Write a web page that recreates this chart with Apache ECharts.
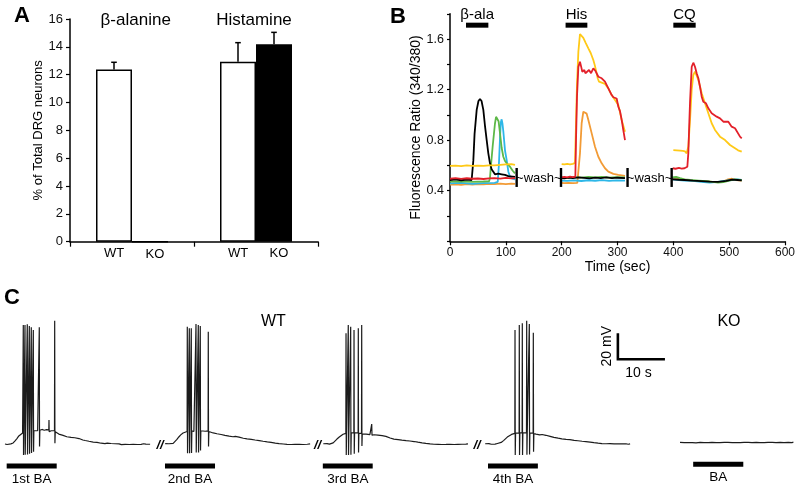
<!DOCTYPE html>
<html><head><meta charset="utf-8">
<script src="https://cdn.jsdelivr.net/npm/echarts@6.0.0/dist/echarts.min.js"></script>
<style>html,body{margin:0;padding:0;background:#fff}#c{width:800px;height:489px}</style>
</head><body><div id="c"></div>
<script>
// ---------------- Panel A data ----------------
const aCategories = ['β-alanine', 'Histamine'];
const aWT = [12.38, 12.93];
const aKO = [0, 14.18];
const aWTerrTop = [12.89, 14.30];
const aKOerrTop = [null, 15.04];

// ---------------- Panel B data (time s, ratio) ----------------
const bStim = [[28.7, 68.7], [207, 246], [400, 440]];
const bStimLabels = ['β-ala', 'His', 'CQ'];
const bWashMarks = [119.4, 198.8, 318, 397];

const bYellow1 = [[0,0.596],[10,0.598],[20,0.594],[30,0.6],[40,0.597],[50,0.599],[60,0.596],[70,0.601],[80,0.6],[90,0.605],[100,0.608],[110,0.611],[116.4,0.605]];
const bYellow2 = [[200,0.611],[205,0.608],[210,0.612],[215,0.609],[220,0.613],[223.9,0.62],[225.5,0.9],[227.5,1.25],[229.9,1.5],[232.8,1.64],[235.5,1.63],[238.8,1.61],[243,1.57],[247.8,1.527],[252,1.49],[256.7,1.434],[259.5,1.39],[262.7,1.329],[264.5,1.29],[266.9,1.263],[271.7,1.255],[277.6,1.245],[283.6,1.21],[289.6,1.157],[295.5,1.118],[301.5,1.078],[304.5,1.02],[307.5,0.96],[313.4,0.867]];
const bYellow3 = [[400,0.722],[406,0.72],[412,0.718],[417,0.715],[420.9,0.712],[423.9,0.696],[426.9,0.75],[429.9,0.96],[432.9,1.2],[435.8,1.316],[438.8,1.342],[441.8,1.31],[444.8,1.276],[450.8,1.171],[456.7,1.092],[462.7,1.013],[468.7,0.934],[474.6,0.881],[483.6,0.828],[492.6,0.801],[501.5,0.762],[510.5,0.736],[516,0.72],[522.5,0.709]];

const bRed1 = [[0,0.495],[10,0.5],[20,0.494],[30,0.499],[40,0.495],[50,0.497],[60,0.493],[70,0.498],[80,0.5],[90,0.496],[100,0.502],[110,0.498],[116.4,0.5]];
const bRed2 = [[200,0.505],[205,0.51],[210,0.505],[215,0.512],[220,0.507],[224.5,0.512],[225.7,0.8],[227.5,1.15],[229.9,1.38],[232.8,1.421],[235,1.38],[237,1.342],[240.6,1.355],[242.5,1.33],[244.8,1.329],[249,1.355],[252.6,1.33],[256.7,1.369],[260.9,1.345],[265.7,1.302],[271.7,1.29],[277.6,1.263],[283.6,1.21],[289.6,1.157],[292.6,1.14],[298.5,1.13],[301.5,1.065],[304.5,1.03],[307.5,0.96],[310.4,0.88],[313.4,0.801]];
const bRed3 = [[398.8,0.578],[404,0.574],[410,0.58],[415,0.575],[420,0.578],[425.1,0.59],[426.9,0.7],[428.7,0.95],[429.9,1.1],[432.9,1.381],[435.8,1.413],[438.8,1.381],[441.8,1.329],[444.8,1.29],[447.8,1.223],[450.8,1.144],[453.7,1.104],[458.5,1.092],[462.7,1.052],[468.7,1.013],[477.6,0.986],[483.6,0.973],[489.6,0.946],[498.5,0.946],[504.5,0.907],[510.5,0.894],[513.5,0.9],[519.4,0.828],[522.5,0.815]];

const bBlack1 = [[0,0.485],[10,0.49],[20,0.483],[30,0.488],[38.8,0.485],[41.8,0.64],[44,0.85],[47.8,1.04],[51,1.11],[53.7,1.126],[56.5,1.11],[59.7,1.04],[62.5,0.92],[65.7,0.8],[68.5,0.7],[71.6,0.617],[74.5,0.57],[77.6,0.551],[80.5,0.53],[83.6,0.525],[86.5,0.535],[89.6,0.545],[92.5,0.53],[95.5,0.517],[98.5,0.525],[101.5,0.525],[104.5,0.515],[107.5,0.518],[112,0.512],[116.4,0.51]];
const bBlack2 = [[198,0.5],[205,0.498],[212,0.503],[220,0.5],[230,0.505],[240,0.502],[250,0.498],[260,0.503],[270,0.5],[280,0.505],[290,0.5],[300,0.503],[313.4,0.5]];
const bBlack3 = [[398,0.49],[410,0.487],[420,0.485],[435,0.48],[450,0.476],[465,0.472],[480,0.47],[495,0.478],[505,0.488],[515,0.485],[522.5,0.482]];

const bGreen1 = [[0,0.472],[20,0.475],[40,0.47],[60,0.473],[70,0.475],[71.6,0.5],[73,0.58],[76.4,0.75],[80.5,0.93],[82.5,0.985],[84.8,0.999],[87,0.95],[89.6,0.854],[92.5,0.74],[95.5,0.669],[98.5,0.635],[101.5,0.617],[107.5,0.59],[112,0.56],[116.4,0.538]];
const bGreen2 = [[198,0.505],[210,0.5],[222,0.508],[235,0.503],[248,0.51],[260,0.505],[272,0.51],[285,0.503],[298,0.508],[313.4,0.505]];
const bGreen3 = [[398,0.505],[405,0.51],[412,0.5],[420,0.49],[430,0.485],[445,0.48],[460,0.475],[470,0.47],[480,0.465],[490,0.468],[500,0.48],[510,0.49],[522.5,0.483]];

const bCyan1 = [[0,0.459],[20,0.462],[40,0.455],[60,0.46],[80,0.462],[85.5,0.47],[87.5,0.6],[89.6,0.82],[91,0.94],[92.5,0.965],[94,0.93],[95.5,0.87],[98.5,0.72],[101.5,0.643],[104.5,0.551],[107.5,0.511],[112,0.495],[116.4,0.49]];
const bCyan2 = [[198,0.48],[210,0.478],[222,0.482],[235,0.477],[248,0.483],[260,0.479],[272,0.484],[285,0.478],[298,0.482],[313.4,0.48]];
const bCyan3 = [[398,0.49],[410,0.485],[420,0.48],[435,0.478],[450,0.47],[465,0.465],[480,0.47],[495,0.48],[505,0.485],[515,0.49],[522.5,0.485]];

const bOrange1 = [[0,0.448],[10,0.45],[20,0.447],[30,0.452],[40,0.449],[50,0.453],[60,0.45],[70,0.455],[80,0.452],[90,0.456],[100,0.453],[110,0.457],[116.4,0.455]];
const bOrange2 = [[198,0.462],[205,0.46],[212,0.463],[220,0.46],[228,0.462],[229.9,0.47],[232.8,0.696],[235.8,0.934],[238.8,1.025],[241.8,1.03],[244.8,1.01],[247.8,0.96],[253.8,0.854],[259.7,0.748],[265.7,0.669],[271.7,0.617],[277.6,0.578],[283.6,0.551],[292.6,0.533],[301.5,0.525],[313.4,0.517]];
const bOrange3 = [[398,0.5],[405,0.495],[412,0.49],[420,0.488],[430,0.48],[440,0.478],[450,0.475],[460,0.473],[470,0.47],[480,0.468],[490,0.475],[498,0.49],[505,0.495],[512,0.485],[522.5,0.48]];

// ---------------- Panel C data (time s, mV relative to rest) ----------------
const cTrace1 = [[1.06,0],[1.5,-0.4],[1.9,0.4],[2.3,0.1],[2.8,0.8],[3.2,2.4],[3.6,4.2],[4.0,6.2],[4.4,7.6],[4.8,8.5],
 [4.91,8.7],[4.95,91.5],[5.0,-8.5],[5.07,8.8],[5.27,9.0],[5.31,91.5],[5.36,-8.3],[5.43,9.2],[5.76,9.3],[5.8,92.1],[5.85,-8],[5.92,9.5],
 [6.19,9.4],[6.23,90.8],[6.28,-7.5],[6.35,9.6],[6.61,9.8],[6.65,89.8],[6.7,-7],[6.77,10],[7.04,10.2],[7.08,87.7],[7.13,-6],[7.2,10.3],
 [7.6,10.8],[8.0,10.2],[8.31,10.5],[8.35,89.8],[8.4,-2],[8.47,10.6],[8.9,11.2],[9.4,10.6],[9.9,11.0],[10.37,10.8],[10.41,18.5],[10.45,9.5],[10.5,10.6],
 [10.9,10.2],[11.3,10.4],[11.58,10.2],[11.62,94.8],[11.67,0.5],[11.74,9.4],[12.1,8.5],[12.5,7.6],[12.9,7.2],[13.4,6.6],[13.8,6.9],[14.2,5.6],[14.6,6.0],
 [15.1,5.1],[15.5,4.6],[15.9,4.8],[16.3,3.9],[16.8,4.2],[17.2,3.4],[17.6,3.1],[18.1,2.7],[18.5,3.0],[18.9,2.1],[19.3,2.4],[19.8,1.5],[20.2,1.9],
 [20.6,1.2],[21.0,1.5],[21.5,0.6],[21.9,0.9],[22.3,0.3],[22.8,0.7],[23.2,0],[23.6,0.4],[24.0,-0.3],[24.5,0.2],[24.9,-0.4],[25.3,0.1],[25.8,-0.5],
 [26.2,0.2],[26.6,-0.3],[27.0,0.3],[27.5,-0.4],[27.9,0.1],[28.3,-0.2],[28.7,0.3],[29.2,-0.4],[29.6,0],[30.0,-0.3],[30.5,0.2],[31.0,-0.1],[31.4,0.1],[31.9,-0.2]];
const cTrace2 = [[35.1,0.3],[35.5,-0.4],[35.9,0.2],[36.3,-0.2],[36.8,0.5],[37.2,1.8],[37.6,3.5],[38.0,5.4],[38.4,7.0],[38.9,8.5],[39.3,9.4],
 [39.76,9.6],[39.8,90.2],[39.85,-7.2],[39.92,9.5],[40.19,9.8],[40.23,89.0],[40.28,-7.2],[40.35,9.9],[40.61,10.0],[40.65,89.0],[40.7,-7.0],[40.77,10.1],
 [41.2,9.6],[41.61,10.3],[41.65,92.3],[41.7,-6.5],[41.77,10.0],[42.1,10.2],[42.14,91.5],[42.19,-6.5],[42.26,10.4],[42.52,10.0],[42.56,90.8],[42.61,-5],[42.68,10.2],
 [43.1,10.6],[43.6,9.8],[44.0,10.3],[44.22,10.1],[44.26,86.4],[44.31,-2],[44.38,9.6],[44.8,9.0],[45.3,8.5],[45.7,8.8],[46.1,7.9],[46.5,8.2],[47.0,7.3],
 [47.4,7.0],[47.8,6.7],[48.2,6.9],[48.7,6.1],[49.1,6.3],[49.5,5.6],[50.0,5.9],[50.4,5.1],[50.8,5.3],[51.2,4.8],[51.7,4.4],[52.1,4.7],[52.5,3.9],[52.9,4.2],
 [53.4,3.6],[53.8,3.8],[54.2,3.1],[54.6,3.3],[55.1,2.6],[55.5,2.8],[55.9,2.1],[56.3,2.4],[56.8,1.6],[57.2,1.9],[57.6,1.2],[58.0,1.4],[58.5,0.7],[58.9,1.0],
 [59.3,0.3],[59.7,0.6],[60.2,0],[60.6,0.4],[61.0,-0.3],[61.4,0.2],[61.9,-0.4],[62.3,0.1],[62.7,-0.2],[63.1,0.3],[63.6,-0.3],[64.0,0.1],[64.4,-0.4],[64.8,0.2],[65.3,-0.2],[65.9,0.1]];
const cTrace3 = [[68.7,0.2],[69.1,-0.3],[69.5,0.3],[70.0,-0.1],[70.4,0.4],[70.8,0.9],[71.2,2.3],[71.6,3.8],[72.1,5.4],[72.5,6.6],[72.9,7.5],[73.3,8.0],
 [73.49,8.2],[73.53,85.2],[73.58,-8.5],[73.65,8.3],[73.97,8.5],[74.01,91.5],[74.06,-8.5],[74.13,8.6],[74.48,8.7],[74.52,90.2],[74.57,-8.2],[74.64,8.8],
 [74.95,8.4],[75.19,8.6],[75.23,87.7],[75.28,-7.5],[75.35,8.5],[75.7,8.9],[76.1,8.5],[76.14,89.0],[76.19,-6.5],[76.26,8.3],[76.82,8.1],[76.86,91.5],[76.91,-1.5],[76.98,7.7],
 [77.4,7.3],[77.8,7.6],[78.2,6.9],[78.6,7.2],[78.95,7.0],[78.99,15.4],[79.05,6.8],[79.5,7.1],[79.9,6.5],[80.3,6.8],[80.7,6.2],[81.2,6.4],[81.6,5.6],[82.0,5.9],
 [82.4,5.0],[82.9,4.6],[83.3,4.9],[83.7,3.8],[84.1,4.1],[84.6,3.4],[85.0,3.6],[85.4,3.0],[85.8,3.3],[86.3,2.6],[86.7,2.9],[87.1,2.3],[87.5,2.6],[88.0,1.9],
 [88.4,2.1],[88.8,1.4],[89.2,1.7],[89.7,0.9],[90.1,1.2],[90.5,0.5],[90.9,0.8],[91.4,0.1],[91.8,0.5],[92.2,-0.2],[92.6,0.3],[93.1,-0.3],[93.5,0.2],[93.9,-0.4],
 [94.3,0.1],[94.8,-0.3],[95.2,0.3],[95.6,-0.2],[96.0,0.2],[96.5,-0.4],[96.9,0.1],[97.3,-0.3],[97.7,0.2],[98.2,-0.2],[98.6,0.3],[99.0,-0.1],[99.45,0.1]];
const cTrace4 = [[103.1,0.2],[103.5,-0.3],[103.9,0.3],[104.4,-0.2],[104.8,0.2],[105.2,-0.1],[105.7,0.4],[106.1,0.2],[106.5,1.2],[107.0,2.6],[107.4,4.0],[107.8,5.3],[108.2,6.4],[108.7,7.4],[109.1,8.0],
 [109.4,8.2],[109.44,87.7],[109.49,-8.5],[109.56,8.3],[109.95,8.7],[110.31,8.5],[110.35,91.5],[110.4,-8.5],[110.47,8.6],[110.95,8.8],[110.99,92.8],[111.04,-8.5],[111.11,8.7],
 [111.5,8.9],[111.88,8.6],[111.92,94.8],[111.97,-8.3],[112.04,8.8],[112.44,8.9],[112.48,92.3],[112.53,-8],[112.6,8.5],[112.95,8.8],[113.29,8.4],[113.33,85.6],[113.38,-6],[113.45,8.0],
 [113.9,7.6],[114.3,7.9],[114.7,7.0],[115.2,7.3],[115.6,6.4],[116.0,6.7],[116.4,5.6],[116.9,5.9],[117.3,4.8],[117.7,5.1],[118.1,4.2],[118.6,4.5],[119.0,3.8],[119.4,4.0],
 [119.8,3.3],[120.3,3.6],[120.7,3.0],[121.1,3.3],[121.5,2.6],[122.0,2.8],[122.4,2.2],[122.8,2.5],[123.2,1.8],[123.7,2.1],[124.1,1.5],[124.5,1.8],[124.9,1.1],[125.4,1.4],
 [125.8,0.7],[126.2,1.0],[126.6,0.3],[127.1,0.6],[127.5,-0.1],[127.9,0.3],[128.3,-0.4],[128.8,0.2],[129.2,-0.3],[129.6,0.3],[130.0,-0.4],[130.5,0.1],[130.9,-0.3],[131.3,0.2],
 [131.7,-0.4],[132.2,0.1],[132.6,-0.3],[133.0,0.2],[133.5,-0.2],[133.9,0.1]];
const cTraceKO = [[144.5,1.3],[144.9,1.7],[145.4,1.0],[145.8,1.5],[146.2,1.1],[146.6,1.6],[147.1,1.0],[147.5,1.4],[147.9,0.9],[148.3,1.5],[148.8,1.2],[149.2,1.7],
 [149.6,1.1],[150.0,1.5],[150.5,1.0],[150.9,1.6],[151.3,1.2],[151.7,1.7],[152.2,1.1],[152.6,1.5],[153.0,1.0],[153.4,1.6],[153.9,1.2],[154.3,1.8],[154.7,1.3],[155.1,1.6],
 [155.6,1.1],[156.0,1.5],[156.4,1.0],[156.8,1.4],[157.3,1.1],[157.7,1.6],[158.1,1.2],[158.5,1.7],[159.0,1.3],[159.4,1.5],[159.8,1.0],[160.2,1.6],[160.7,1.2],[161.1,1.7],
 [161.5,1.1],[161.9,1.5],[162.4,1.0],[162.8,1.6],[163.2,1.3],[163.6,1.7],[164.1,1.2],[164.5,1.5],[164.9,1.0],[165.3,1.6],[165.8,1.2],[166.2,1.7],[166.6,1.1],[167.0,1.5],
 [167.5,1.2],[167.9,1.6],[168.3,1.1],[168.6,1.4]];
const cStim = [[1.42, 12.05, -16.9], [35.06, 45.69, -16.9], [68.6, 79.2, -16.9], [103.7, 114.3, -16.9], [147.3, 157.95, -15.6]];
const cStimLabels = ['1st BA', '2nd BA', '3rd BA', '4th BA', 'BA'];
const cBreaks = [34.0, 67.47, 101.36];
const cScaleBar = [131.3, 65.2, 10, 20]; // x0 (s), y0 (mV), 10 s, 20 mV
const cGroupLabels = [[58.1, 93.8, 'WT'], [154.9, 94.1, 'KO']];

// ---------------- styling ----------------
const FONT = '"Liberation Sans", Arial, Helvetica, sans-serif';
const COL = { yellow: '#FFC917', red: '#E3202A', green: '#5DB847', cyan: '#2DB7E8', orange: '#F29B36', black: '#000000' };

const axisBase = {
  axisLine: { show: true, lineStyle: { color: '#000', width: 1.5 } },
  axisTick: { show: true, inside: false, length: 4, lineStyle: { color: '#000', width: 1.2 } },
  axisLabel: { color: '#111', fontSize: 12, fontFamily: FONT },
  splitLine: { show: false }
};

const series = [];

// Panel A bars
series.push({
  type: 'bar', name: 'WT', xAxisIndex: 0, yAxisIndex: 0, data: aWT, barWidth: 36, barGap: '0%',
  itemStyle: { color: '#fff', borderColor: '#000', borderWidth: 1.5 },
  label: { show: true, position: 'bottom', distance: 5, formatter: 'WT', color: '#000', fontSize: 13, fontFamily: FONT },
  z: 2
});
series.push({
  type: 'bar', name: 'KO', xAxisIndex: 0, yAxisIndex: 0, data: aKO, barWidth: 36, barGap: '0%',
  itemStyle: { color: '#000', borderColor: '#000', borderWidth: 1.5 },
  label: { show: true, position: 'bottom', distance: 5, offset: [5, 0], formatter: 'KO', color: '#000', fontSize: 13, fontFamily: FONT },
  z: 2
});
const aErrData = [];
aWT.forEach((v, i) => { if (aWTerrTop[i] != null) aErrData.push([i, aWTerrTop[i], v, -1]); });
aKO.forEach((v, i) => { if (aKOerrTop[i] != null) aErrData.push([i, aKOerrTop[i], v, 1]); });
series.push({
  type: 'custom', xAxisIndex: 0, yAxisIndex: 0, data: aErrData, z: 5,
  renderItem: (params, api) => {
    const cat = api.value(0), top = api.value(1), base = api.value(2), side = api.value(3);
    const p1 = api.coord([cat, base]), p2 = api.coord([cat, top]);
    const x = p1[0] + side * 18;
    return { type: 'group', children: [
      { type: 'line', shape: { x1: x, y1: p1[1], x2: x, y2: p2[1] }, style: { stroke: '#000', lineWidth: 1.5 } },
      { type: 'line', shape: { x1: x - 2.8, y1: p2[1], x2: x + 2.8, y2: p2[1] }, style: { stroke: '#000', lineWidth: 1.5 } }
    ]};
  }
});

// Panel B traces
const bTraces = [
  ['orange', [bOrange1, bOrange2, bOrange3]],
  ['cyan', [bCyan1, bCyan2, bCyan3]],
  ['green', [bGreen1, bGreen2, bGreen3]],
  ['black', [bBlack1, bBlack2, bBlack3]],
  ['yellow', [bYellow1, bYellow2, bYellow3]],
  ['red', [bRed1, bRed2, bRed3]]
];
bTraces.forEach(([c, segs], k) => {
  segs.forEach(seg => series.push({
    type: 'line', xAxisIndex: 1, yAxisIndex: 1, data: seg, symbol: 'none', smooth: false,
    lineStyle: { color: COL[c], width: 1.8 }, z: 3 + k
  }));
});
// stimulus bars B
series.push({
  type: 'custom', xAxisIndex: 1, yAxisIndex: 1, data: bStim.map(s => [s[0], s[1], 1.71]), z: 10,
  renderItem: (params, api) => {
    const p1 = api.coord([api.value(0), api.value(2)]), p2 = api.coord([api.value(1), api.value(2)]);
    return { type: 'group', children: [
      { type: 'rect', shape: { x: p1[0], y: p1[1] - 2.5, width: p2[0] - p1[0], height: 5 }, style: { fill: '#000' } },
      { type: 'text', style: { x: (p1[0] + p2[0]) / 2, y: p1[1] - 10.5, text: bStimLabels[params.dataIndex], fill: '#000',
        font: '15px ' + FONT, align: 'center', verticalAlign: 'middle' } }
    ]};
  }
});
// wash separators B
const bWashData = bWashMarks.map((t, i) => [t, 0.43, 0.58, i]);
series.push({
  type: 'custom', xAxisIndex: 1, yAxisIndex: 1, data: bWashData, z: 10,
  renderItem: (params, api) => {
    const t = api.value(0), i = api.value(3);
    const p1 = api.coord([t, api.value(1)]), p2 = api.coord([t, api.value(2)]);
    const children = [{ type: 'line', shape: { x1: p1[0], y1: p1[1], x2: p2[0], y2: p2[1] }, style: { stroke: '#000', lineWidth: 2.4 } }];
    if (i % 2 === 0 && i + 1 < bWashMarks.length) {
      const pm = api.coord([(t + bWashMarks[i + 1]) / 2, (api.value(1) + api.value(2)) / 2]);
      children.push({ type: 'text', style: { x: pm[0], y: pm[1] + 0.5, text: '~wash~', fill: '#000', font: '13px ' + FONT, align: 'center', verticalAlign: 'middle' } });
    }
    return { type: 'group', children };
  }
});

// Panel C traces
[cTrace1, cTrace2, cTrace3, cTrace4, cTraceKO].forEach(tr => series.push({
  type: 'line', xAxisIndex: 2, yAxisIndex: 2, data: tr, symbol: 'none', smooth: false, sampling: null,
  lineStyle: { color: '#1c1c1c', width: 1.2 }, z: 3
}));
series.push({
  type: 'custom', xAxisIndex: 2, yAxisIndex: 2, data: cStim, z: 10,
  renderItem: (params, api) => {
    const p1 = api.coord([api.value(0), api.value(2)]), p2 = api.coord([api.value(1), api.value(2)]);
    return { type: 'group', children: [
      { type: 'rect', shape: { x: p1[0], y: p1[1] - 2.5, width: p2[0] - p1[0], height: 5 }, style: { fill: '#000' } },
      { type: 'text', style: { x: (p1[0] + p2[0]) / 2, y: p1[1] + 13.5, text: cStimLabels[params.dataIndex], fill: '#000',
        font: '13.5px ' + FONT, align: 'center', verticalAlign: 'middle' } }
    ]};
  }
});
series.push({
  type: 'custom', xAxisIndex: 2, yAxisIndex: 2, data: cBreaks.map(t => [t, 0]), z: 10,
  renderItem: (params, api) => {
    const p = api.coord([api.value(0), api.value(1)]);
    return { type: 'text', style: { x: p[0], y: p[1] + 1, text: '//', fill: '#000', font: 'italic bold 13px ' + FONT, align: 'center', verticalAlign: 'middle' } };
  }
});
series.push({
  type: 'custom', xAxisIndex: 2, yAxisIndex: 2, data: [cScaleBar], z: 10,
  renderItem: (params, api) => {
    const x0 = api.value(0), y0 = api.value(1), dx = api.value(2), dy = api.value(3);
    const o = api.coord([x0, y0]), top = api.coord([x0, y0 + dy]), right = api.coord([x0 + dx, y0]);
    return { type: 'group', children: [
      { type: 'polyline', shape: { points: [top, o, right] }, style: { stroke: '#000', lineWidth: 2.6, fill: null } },
      { type: 'text', x: o[0] - 11, y: (o[1] + top[1]) / 2, rotation: Math.PI / 2,
        style: { x: 0, y: 0, text: '20 mV', fill: '#000', font: '14px ' + FONT, align: 'center', verticalAlign: 'middle' } },
      { type: 'text', style: { x: (o[0] + right[0]) / 2 - 3, y: o[1] + 14, text: '10 s', fill: '#000', font: '14px ' + FONT, align: 'center', verticalAlign: 'middle' } }
    ]};
  }
});
series.push({
  type: 'custom', xAxisIndex: 2, yAxisIndex: 2, data: cGroupLabels.map(g => [g[0], g[1]]), z: 10,
  renderItem: (params, api) => {
    const p = api.coord([api.value(0), api.value(1)]);
    return { type: 'text', style: { x: p[0], y: p[1], text: cGroupLabels[params.dataIndex][2], fill: '#000', font: '16px ' + FONT, align: 'center', verticalAlign: 'middle' } };
  }
});

const option = {
  animation: false,
  backgroundColor: '#fff',
  textStyle: { fontFamily: FONT },
  grid: [
    { left: 70, top: 19, width: 248, height: 222.7, containLabel: false, outerBoundsMode: 'none' },
    { left: 450, top: 13.8, width: 335, height: 227.5, containLabel: false, outerBoundsMode: 'none' },
    { left: 0, top: 301, width: 800, height: 195, containLabel: false, outerBoundsMode: 'none' }
  ],
  xAxis: [
    Object.assign({}, axisBase, { gridIndex: 0, type: 'category', data: aCategories, boundaryGap: true,
      axisTick: { show: true, alignWithLabel: false, interval: 0, length: 5, lineStyle: { color: '#000', width: 1.2 } },
      axisLabel: { show: false } }),
    Object.assign({}, axisBase, { gridIndex: 1, type: 'value', min: 0, max: 600, interval: 100,
      axisLabel: { color: '#111', fontSize: 12, fontFamily: FONT, margin: 5 },
      name: 'Time (sec)', nameLocation: 'middle', nameGap: 19, nameTextStyle: { color: '#000', fontSize: 14, fontFamily: FONT } }),
    { gridIndex: 2, type: 'value', min: 0, max: 170, show: false }
  ],
  yAxis: [
    Object.assign({}, axisBase, { gridIndex: 0, type: 'value', min: 0, max: 16, interval: 2,
      axisLabel: { color: '#111', fontSize: 13, fontFamily: FONT, margin: 7 },
      name: '% of Total DRG neurons', nameLocation: 'middle', nameGap: 24, nameTextStyle: { color: '#000', fontSize: 13, fontFamily: FONT } }),
    Object.assign({}, axisBase, { gridIndex: 1, type: 'value', min: 0, max: 1.8, interval: 0.2,
      axisTick: { show: true, length: 3, lineStyle: { color: '#000', width: 1.2 } },
      axisLabel: { color: '#111', fontSize: 12.5, fontFamily: FONT, margin: 6,
        formatter: v => { const k = Math.round(v * 10); return (k === 4 || k === 8 || k === 12 || k === 16) ? (k / 10).toFixed(1) : ''; } },
      name: 'Fluorescence Ratio (340/380)', nameLocation: 'middle', nameGap: 26, nameTextStyle: { color: '#000', fontSize: 14, fontFamily: FONT } }),
    { gridIndex: 2, type: 'value', min: -40, max: 110, show: false }
  ],
  graphic: [
    { type: 'text', left: 14, top: 5, style: { text: 'A', fill: '#000', font: 'bold 22px ' + FONT } },
    { type: 'text', left: 390, top: 6, style: { text: 'B', fill: '#000', font: 'bold 22px ' + FONT } },
    { type: 'text', left: 4, top: 287, style: { text: 'C', fill: '#000', font: 'bold 22px ' + FONT } },
    { type: 'text', x: 135.7, y: 20, style: { text: 'β-alanine', fill: '#000', font: '17px ' + FONT, align: 'center', verticalAlign: 'middle' } },
    { type: 'text', x: 254, y: 20, style: { text: 'Histamine', fill: '#000', font: '17px ' + FONT, align: 'center', verticalAlign: 'middle' } }
  ],
  series
};
const chart = echarts.init(document.getElementById('c'), null, { renderer: 'canvas' });
chart.setOption(option);
</script>
</body></html>
